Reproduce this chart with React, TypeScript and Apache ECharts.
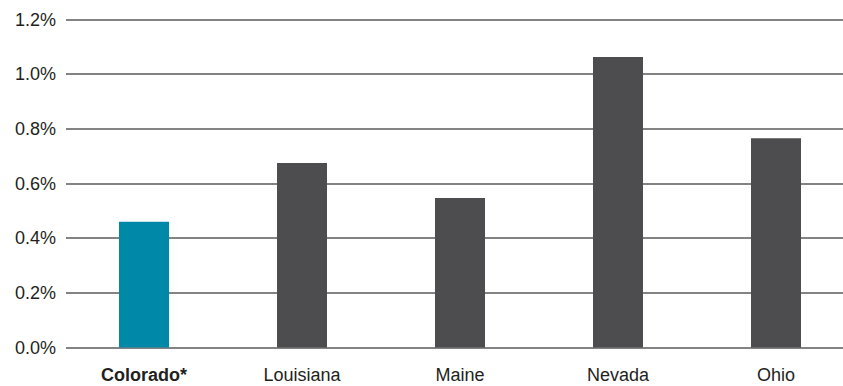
import React, { useEffect, useRef } from "react";
import * as echarts from "echarts";

const categories = ["Colorado*", "Louisiana", "Maine", "Nevada", "Ohio"];
const values = [0.46, 0.675, 0.547, 1.063, 0.766];
const barColors = ["#0088A8", "#4D4D4F", "#4D4D4F", "#4D4D4F", "#4D4D4F"];
const yTicks = [0, 0.2, 0.4, 0.6, 0.8, 1.0, 1.2];

const CHART_W = 860;

export default function App() {
  const ref = useRef<HTMLDivElement>(null);
  useEffect(() => {
    if (!ref.current) return;
    const chart = echarts.init(ref.current, undefined, { renderer: "svg" });
    const font = "'Liberation Sans', Arial, Helvetica, sans-serif";
    chart.setOption({
      animation: false,
      grid: [
        { left: 66, right: CHART_W - 843, top: 19.5, bottom: 38.5 },
        { left: 65, right: CHART_W - 855, top: 19.5, bottom: 38.5 },
      ],
      xAxis: [
        { type: "value", gridIndex: 0, show: false, min: 0, max: 1 },
        {
          type: "category",
          gridIndex: 1,
          data: categories.map((c, i) =>
            i === 0 ? { value: c, textStyle: { fontWeight: "bold" } } : c
          ),
          axisLine: { show: false },
          axisTick: { show: false },
          axisLabel: {
            color: "#231f20",
            fontSize: 18,
            fontFamily: font,
            margin: 18,
          },
        },
      ],
      yAxis: [
        {
          type: "value",
          gridIndex: 0,
          min: yTicks[0],
          max: yTicks[yTicks.length - 1],
          interval: 0.2,
          axisLine: { show: false },
          axisTick: { show: false },
          axisLabel: {
            color: "#231f20",
            fontSize: 18,
            fontFamily: font,
            margin: 10,
            formatter: (v: number) => v.toFixed(1) + "%",
          },
          splitLine: { lineStyle: { color: "#5a5a5a", width: 1.5 } },
        },
        {
          type: "value",
          gridIndex: 1,
          min: yTicks[0],
          max: yTicks[yTicks.length - 1],
          interval: 0.2,
          show: false,
          splitLine: { show: false },
        },
      ],
      series: [
        {
          type: "bar",
          xAxisIndex: 1,
          yAxisIndex: 1,
          barWidth: 50,
          data: values.map((v, i) => ({ value: v, itemStyle: { color: barColors[i] } })),
          z: 3,
        },
      ],
    });
    return () => chart.dispose();
  }, []);
  return (
    <div
      style={{
        position: "absolute",
        left: 0,
        top: 0,
        width: 843,
        height: 386,
        overflow: "hidden",
      }}
    >
      <div ref={ref} style={{ width: CHART_W, height: 386 }} />
    </div>
  );
}
